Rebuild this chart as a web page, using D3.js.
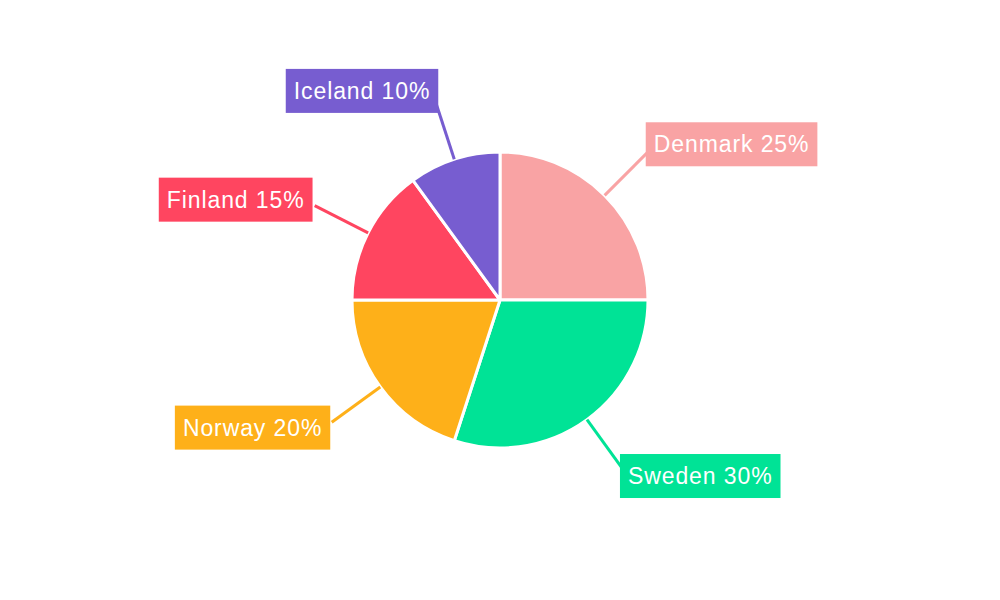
<!DOCTYPE html>
<html>
<head>
<meta charset="utf-8">
<script src="https://cdn.jsdelivr.net/npm/d3@7"></script>
<style>
  body { margin: 0; background: #fff; }
  text { font-family: "Liberation Sans", Arial, sans-serif; }
</style>
</head>
<body>
<svg width="1000" height="600"></svg>
<script>
// Data for the pie
const countries = ["Denmark", "Sweden", "Norway", "Finland", "Iceland"];
const shares = [25, 30, 20, 15, 10];
const colors = ["#F9A3A4", "#00E396", "#FEB019", "#FF4560", "#775DD0"];

const width = 1000, height = 600,
      cx = 500, cy = 300,
      radius = 148;

const svg = d3.select("svg");
const g = svg.append("g")
    .attr("transform", `translate(${cx},${cy})`);

const data = countries.map((c, i) => ({name: c, value: shares[i], color: colors[i]}));

const pie = d3.pie()
    .sort(null)
    .value(d => d.value);

const arc = d3.arc()
    .innerRadius(0)
    .outerRadius(radius);

const arcs = pie(data);

// Slices
g.selectAll("path.slice")
    .data(arcs)
  .enter().append("path")
    .attr("class", "slice")
    .attr("d", arc)
    .attr("fill", d => d.data.color)
    .attr("stroke", "#fff")
    .attr("stroke-width", 3)
    .attr("stroke-linejoin", "round");

// polar helper, angle measured clockwise from top
const pt = (a, r) => [Math.sin(a) * r, -Math.cos(a) * r];

// Leader lines
arcs.forEach(d => {
    const mid = (d.startAngle + d.endAngle) / 2;
    const p1 = pt(mid, radius);
    const p2 = pt(mid, 208);
    g.append("line")
        .attr("x1", p1[0]).attr("y1", p1[1])
        .attr("x2", p2[0]).attr("y2", p2[1])
        .attr("stroke", d.data.color)
        .attr("stroke-width", 3);
});

// Labels with boxes
arcs.forEach(d => {
    const mid = (d.startAngle + d.endAngle) / 2;
    const p = pt(mid, 216);
    const right = p[0] > 0;
    const ly = p[1] * 1.013 - 1;
    const lg = g.append("g");
    const rect = lg.append("rect").attr("fill", d.data.color);
    const t = lg.append("text")
        .attr("x", p[0] + (right ? 1 : -3))
        .attr("y", ly)
        .attr("dy", "0.35em")
        .attr("text-anchor", right ? "start" : "end")
        .attr("fill", "#fff")
        .style("font-size", "23px")
        .style("letter-spacing", "0.9px")
        .text(`${d.data.name} ${d.data.value}%`);
    const bb = t.node().getBBox();
    rect.attr("x", bb.x - 8)
        .attr("y", ly - 22)
        .attr("width", bb.width + 16)
        .attr("height", 44);
});
</script>
</body>
</html>
